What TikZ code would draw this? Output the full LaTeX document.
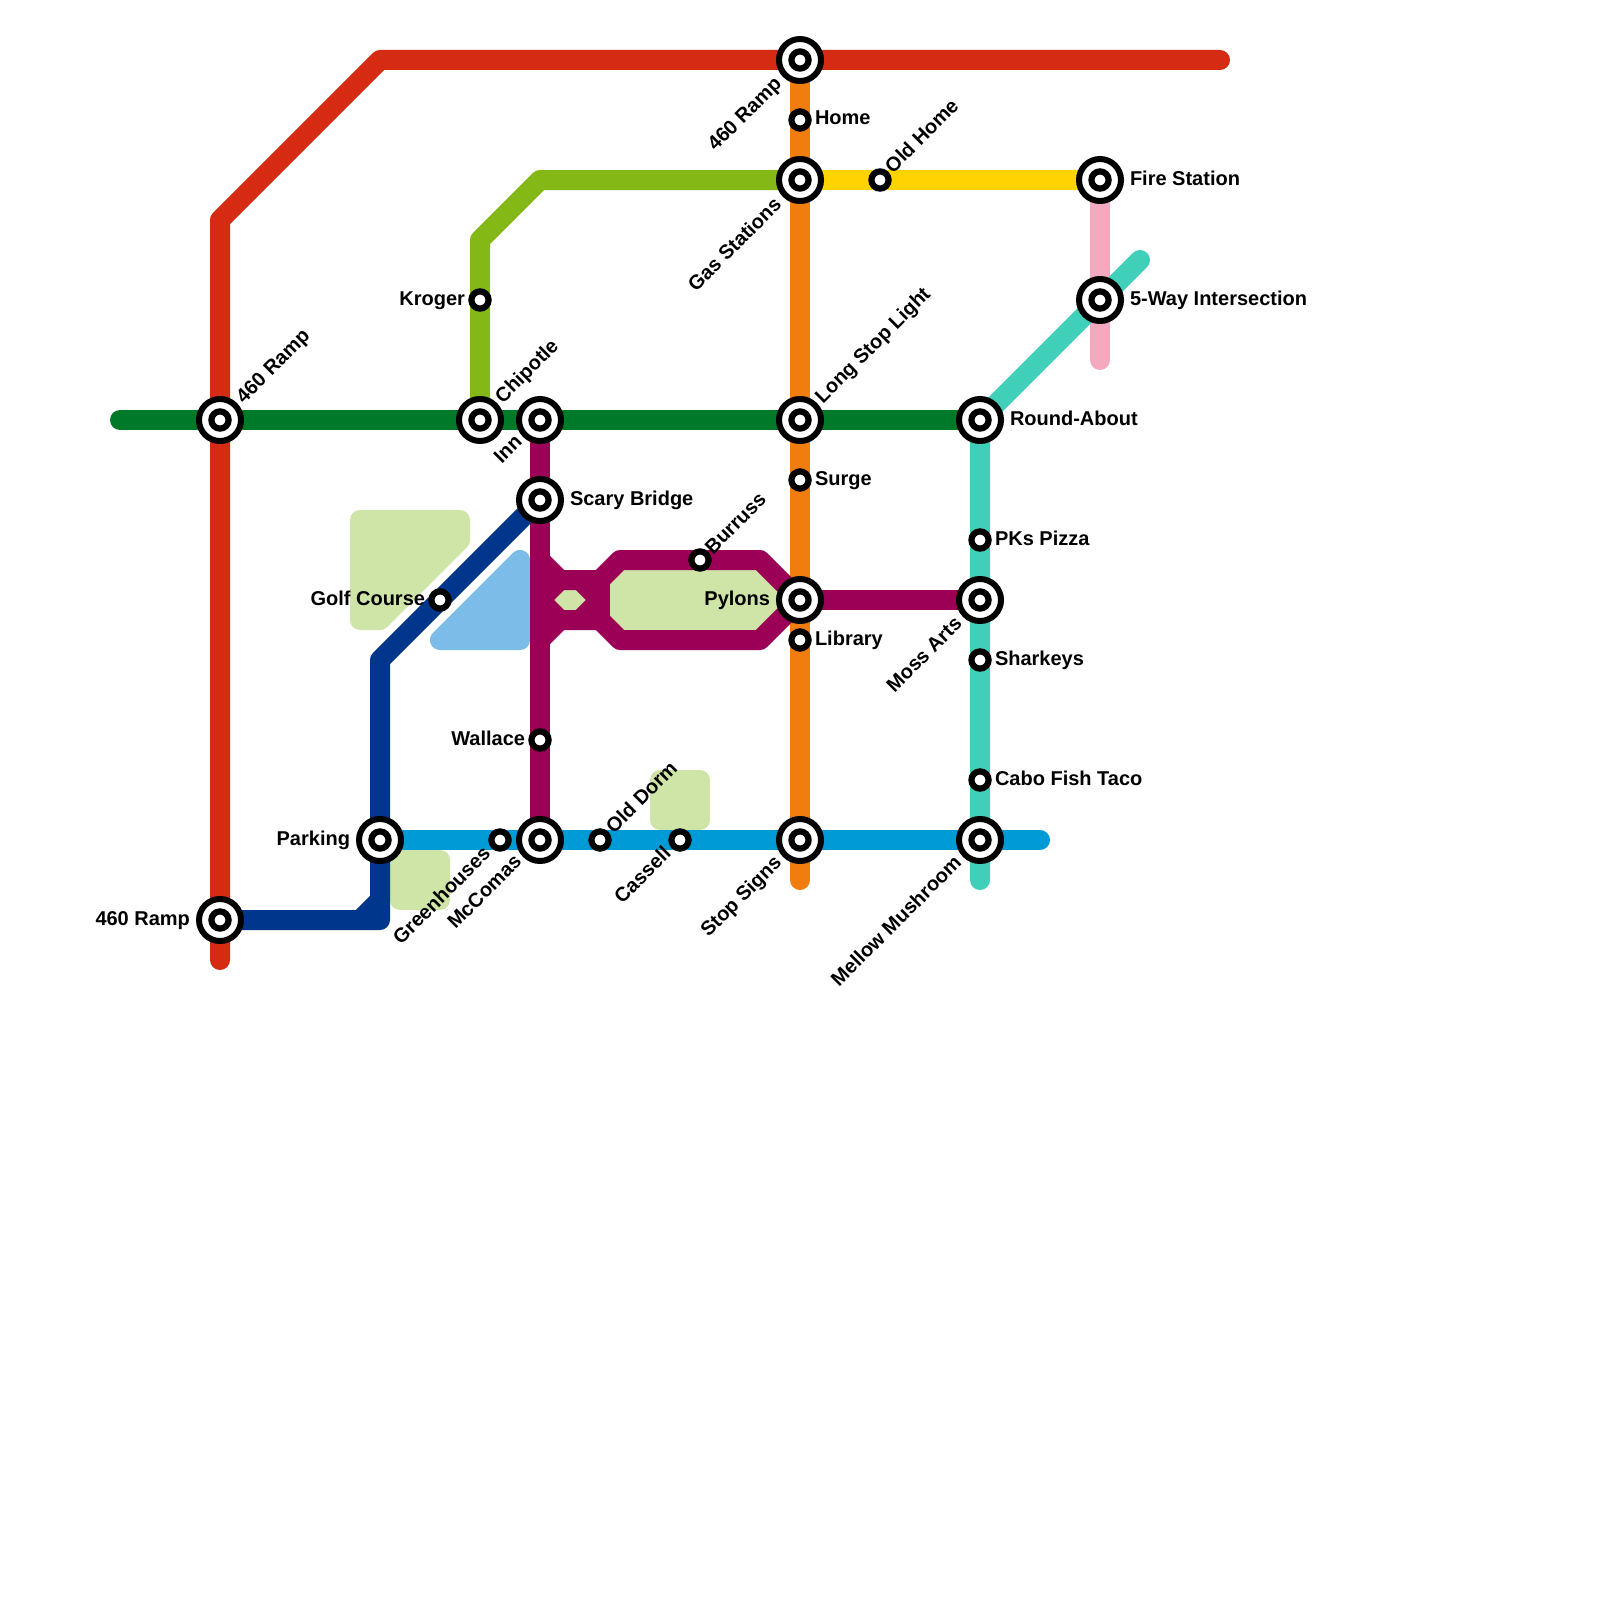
\documentclass[tikz,border=0pt]{standalone}
\usepackage{fontspec}
\setmainfont{Liberation Sans}
\usetikzlibrary{backgrounds}
\definecolor{cRed}{HTML}{D62B13}
\definecolor{cDkGreen}{HTML}{007A28}
\definecolor{cLime}{HTML}{84B817}
\definecolor{cOrange}{HTML}{F07D0E}
\definecolor{cYellow}{HTML}{FFD300}
\definecolor{cPink}{HTML}{F4A9BE}
\definecolor{cTeal}{HTML}{40CFB8}
\definecolor{cPurple}{HTML}{9B0056}
\definecolor{cNavy}{HTML}{00368C}
\definecolor{cCyan}{HTML}{009BD6}
\definecolor{cLand}{HTML}{CFE4A7}
\definecolor{cWater}{HTML}{7BBDE8}
\tikzset{
  hub/.style={circle,draw=black,fill=white,line width=3pt,minimum size=21pt,inner sep=0pt,
    path picture={\draw[black,line width=3.1pt] (path picture bounding box.center) circle (4.3pt);}},
  halt/.style={circle,draw=black,fill=white,line width=3.1pt,minimum size=8.6pt,inner sep=0pt},
  lab/.style={font=\fontsize{10pt}{12pt}\selectfont\bfseries,text=black,inner sep=0pt,outer sep=0pt},
  east/.style={lab,anchor=base west},
  west/.style={lab,anchor=base east},
  upr/.style={lab,anchor=base west,rotate=45},
  dnl/.style={lab,anchor=base east,rotate=45},
  metro/.style={line width=10pt,line join=round,line cap=round},
  metrobutt/.style={line width=10pt,line join=round,line cap=butt},
  land/.style={fill=cLand,draw=cLand,line width=10pt,line join=round},
  water/.style={fill=cWater,draw=cWater,line width=10pt,line join=round},
}
\begin{document}
\begin{tikzpicture}[x=0.5pt,y=-0.5pt]
\useasboundingbox (0,0) rectangle (1600,1600);
% stations
\node[hub] (rampTop) at (800,60) {};
\node[hub] (gas) at (800,180) {};
\node[hub] (fire) at (1100,180) {};
\node[hub] (five) at (1100,300) {};
\node[hub] (rampW) at (220,420) {};
\node[hub] (chip) at (480,420) {};
\node[hub] (inn) at (540,420) {};
\node[hub] (longstop) at (800,420) {};
\node[hub] (round) at (980,420) {};
\node[hub] (scary) at (540,500) {};
\node[hub] (pylons) at (800,600) {};
\node[hub] (moss) at (980,600) {};
\node[hub] (parking) at (380,840) {};
\node[hub] (mccomas) at (540,840) {};
\node[hub] (stop) at (800,840) {};
\node[hub] (mellow) at (980,840) {};
\node[hub] (rampS) at (220,920) {};
\node[halt] (home) at (800,120) {};
\node[halt] (oldhome) at (880,180) {};
\node[halt] (kroger) at (480,300) {};
\node[halt] (surge) at (800,480) {};
\node[halt] (pks) at (980,540) {};
\node[halt] (golf) at (440,600) {};
\node[halt] (burruss) at (700,560) {};
\node[halt] (library) at (800,640) {};
\node[halt] (sharkeys) at (980,660) {};
\node[halt] (wallace) at (540,740) {};
\node[halt] (cabo) at (980,780) {};
\node[halt] (green) at (500,840) {};
\node[halt] (olddorm) at (600,840) {};
\node[halt] (cassell) at (680,840) {};
% labels
\node[dnl] (l1) at (782.5,85) {460 Ramp};
\node[dnl] (l2) at (782.5,206) {Gas Stations};
\node[east] (l3) at (1130,185) {Fire Station};
\node[east] (l4) at (1130,305) {5-Way Intersection};
\node[upr] (l5) at (244,404) {460 Ramp};
\node[upr] (l6) at (503,404) {Chipotle};
\node[dnl] (l7) at (523,443) {Inn};
\node[upr] (l8) at (823,404) {Long Stop Light};
\node[east] (l9) at (1010,425) {Round-About};
\node[east] (l10) at (570,505) {Scary Bridge};
\node[west] (l11) at (770,605) {Pylons};
\node[dnl] (l12) at (963,625) {Moss Arts};
\node[west] (l13) at (350,845) {Parking};
\node[dnl] (l14) at (522.5,863) {McComas};
\node[dnl] (l15) at (782.5,864) {Stop Signs};
\node[dnl] (l16) at (962.5,864) {Mellow Mushroom};
\node[west] (l17) at (190,925) {460 Ramp};
\node[east] (l18) at (815,125) {Home};
\node[upr] (l19) at (893,174) {Old Home};
\node[west] (l20) at (465,305) {Kroger};
\node[east] (l21) at (815,485) {Surge};
\node[east] (l22) at (995,545) {PKs Pizza};
\node[west] (l23) at (425,605) {Golf Course};
\node[upr] (l24) at (713,555) {Burruss};
\node[east] (l25) at (815,645) {Library};
\node[east] (l26) at (995,665) {Sharkeys};
\node[west] (l27) at (525,745) {Wallace};
\node[east] (l28) at (995,785) {Cabo Fish Taco};
\node[dnl] (l29) at (491.5,855) {Greenhouses};
\node[upr] (l30) at (614,834) {Old Dorm};
\node[dnl] (l31) at (672,855) {Cassell};
% bends and free ends
\coordinate (r0) at (220,960); \coordinate (r1) at (220,220); \coordinate (r2) at (380,60); \coordinate (r3) at (1220,60);
\coordinate (g0) at (120,420);
\coordinate (v1) at (480,240); \coordinate (v2) at (540,180);
\coordinate (o1) at (800,880);
\coordinate (p1) at (1100,360);
\coordinate (t1) at (1140,260); \coordinate (t2) at (980,880);
\coordinate (n1) at (380,660); \coordinate (n2) at (380,920); \coordinate (n3) at (360,920); \coordinate (n4) at (380,900);
\coordinate (c1) at (1040,840);
\coordinate (a0) at (540,560); \coordinate (a1) at (560,580); \coordinate (a2) at (600,580); \coordinate (a3) at (620,560);
\coordinate (a4) at (760,560); \coordinate (a5) at (760,640); \coordinate (a6) at (620,640); \coordinate (a7) at (600,620);
\coordinate (a8) at (560,620); \coordinate (a9) at (540,640); \coordinate (a10) at (540,600); \coordinate (a11) at (600,600);
\coordinate (a12) at (580,580); \coordinate (a13) at (580,620);
\begin{scope}[on background layer]
\fill[white] (0,0) rectangle (1600,1600);
\path[land] (360,520) -- (460,520) -- (460,540) -- (380,620) -- (360,620) -- cycle;
\path[land] (400,860) rectangle (440,900);
\path[land] (660,780) rectangle (700,820);
\path[water] (520,560) -- (440,640) -- (520,640) -- cycle;
\fill[cLand] (a2) -- (a3) -- (a4) -- (pylons.center) -- (a5) -- (a6) -- (a7) -- cycle;
\fill[cLand] (550,585) rectangle (590,615);
% lines
\draw[metro,cLime] (chip.center) -- (kroger.center) -- (v1) -- (v2) -- (gas.center);
\draw[metro,cOrange] (rampTop.center) -- (home.center) -- (gas.center) -- (longstop.center) -- (surge.center) -- (pylons.center) -- (library.center) -- (stop.center) -- (o1);
\draw[metro,cRed] (r0) -- (rampS.center) -- (rampW.center) -- (r1) -- (r2) -- (rampTop.center) -- (r3);
\draw[metro,cYellow] (gas.center) -- (oldhome.center) -- (fire.center);
\draw[metro,cPink] (fire.center) -- (five.center) -- (p1);
\draw[metro,cTeal] (t2) -- (mellow.center) -- (cabo.center) -- (sharkeys.center) -- (moss.center) -- (pks.center) -- (round.center) -- (five.center) -- (t1);
\draw[metro,cPurple] (inn.center) -- (scary.center) -- (wallace.center) -- (mccomas.center);
\draw[metro,cPurple] (a0) -- (a1) -- (a2) -- (a3) -- (burruss.center) -- (a4) -- (pylons.center) -- (a5) -- (a6) -- (a7) -- (a8) -- (a9);
\draw[metro,cPurple] (a2) -- (a7);
\draw[metro,cPurple] (a1) -- (a10) -- (a8);
\draw[metro,cPurple] (a12) -- (a11) -- (a13);
\draw[metro,cPurple] (pylons.center) -- (moss.center);
\draw[metro,cCyan] (parking.center) -- (green.center) -- (mccomas.center) -- (olddorm.center) -- (cassell.center) -- (stop.center) -- (mellow.center) -- (c1);
\draw[metro,cNavy] (scary.center) -- (golf.center) -- (n1) -- (parking.center) -- (n4) -- (n2) -- (rampS.center);
\draw[metrobutt,cNavy] (n3) -- (n4);
\draw[metro,cDkGreen] (g0) -- (rampW.center) -- (chip.center) -- (inn.center) -- (longstop.center) -- (round.center);
\end{scope}
\end{tikzpicture}
\end{document}
